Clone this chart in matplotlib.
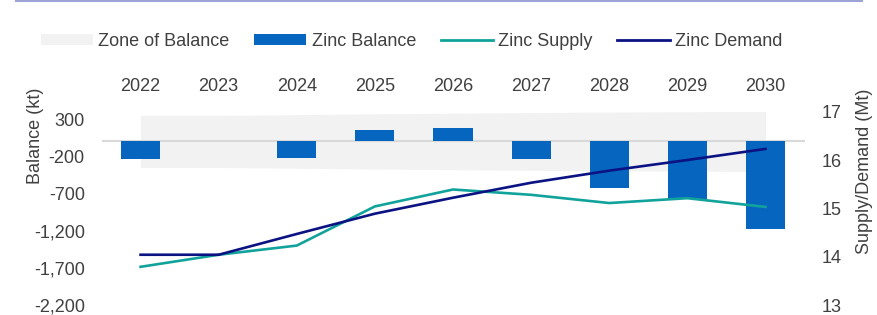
import matplotlib
matplotlib.use("Agg")
import matplotlib.pyplot as plt
from matplotlib.lines import Line2D
from matplotlib.patches import Patch

plt.rcParams['font.family'] = ['Liberation Sans', 'DejaVu Sans']

# === Data ===
years = ["2022", "2023", "2024", "2025", "2026", "2027", "2028", "2029", "2030"]
balance_kt = [-240, 0, -220, 150, 180, -240, -630, -775, -1180]
zone_upper = [350, 350, 360, 372, 380, 388, 395, 400, 405]
zone_lower = [-350, -350, -360, -372, -380, -388, -395, -400, -405]
supply_mt = [13.79, 14.04, 14.23, 15.04, 15.39, 15.28, 15.11, 15.21, 15.03]
demand_mt = [14.04, 14.04, 14.47, 14.89, 15.22, 15.53, 15.78, 16.00, 16.23]

left_ticks = [-2200, -1700, -1200, -700, -200, 300]
right_ticks = [13, 14, 15, 16, 17]

# colours
TXT = "#404040"
ZONE = "#F2F2F2"
BAR = "#0565BF"
SUPPLY = "#11A39B"
DEMAND = "#0B1383"
AXLINE = "#D9D9D9"

fig = plt.figure(figsize=(8.77, 3.15), dpi=100)
ax = fig.add_axes([101.5 / 877, 1 - 305 / 315, 703 / 877, 193.3 / 315])
ax2 = ax.twinx()

x = list(range(len(years)))

ax.fill_between(x, zone_lower, zone_upper, color=ZONE, linewidth=0, zorder=1)
ax.axhline(0, color=AXLINE, lw=1.5, zorder=2)
ax.bar(x, balance_kt, width=0.5, color=BAR, zorder=3)

ax2.plot(x, supply_mt, color=SUPPLY, lw=1.9)
ax2.plot(x, demand_mt, color=DEMAND, lw=1.9)

ax.set_xlim(-0.5, 8.5)
ax.set_ylim(-2200, 400)
ax2.set_ylim(13, 17)

ax.set_yticks(left_ticks)
ax.set_yticklabels([f"{v:,}" for v in left_ticks])
ax2.set_yticks(right_ticks)

ax.set_xticks(x)
ax.set_xticklabels(years)
ax.xaxis.tick_top()

for a in (ax, ax2):
    for s in a.spines.values():
        s.set_visible(False)

ax.tick_params(axis="x", length=0, pad=12, labelsize=13, colors=TXT)
ax.tick_params(axis="y", length=0, pad=12, labelsize=13, colors=TXT)
ax2.tick_params(axis="y", length=0, pad=12, labelsize=13, colors=TXT)

ax.set_ylabel("Balance (kt)", fontsize=13, color=TXT)
ax.yaxis.set_label_coords(-0.082, 0.874)
ax2.set_ylabel("Supply/Demand (Mt)", fontsize=13, color=TXT)
ax2.yaxis.set_label_coords(1.073, 0.693)

# legend
handles = [
    Patch(facecolor=ZONE, edgecolor="none", label="Zone of Balance"),
    Patch(facecolor=BAR, edgecolor="none", label="Zinc Balance"),
    Line2D([], [], color=SUPPLY, lw=2, label="Zinc Supply"),
    Line2D([], [], color=DEMAND, lw=2, label="Zinc Demand"),
]
leg = fig.legend(handles=handles, loc="center", bbox_to_anchor=(411.5 / 877, 1 - 41 / 315),
                 ncol=4, frameon=False, fontsize=13, handlelength=2.9, handleheight=0.55,
                 handletextpad=0.3, columnspacing=1.35, borderpad=0, borderaxespad=0)
for t in leg.get_texts():
    t.set_color(TXT)

# thin rule across the top
fig.add_artist(Line2D([16 / 877, 862 / 877], [1 - 1 / 315, 1 - 1 / 315],
                      color="#9EA3D6", lw=1.5, transform=fig.transFigure))

fig.savefig("out.png", dpi=100)
